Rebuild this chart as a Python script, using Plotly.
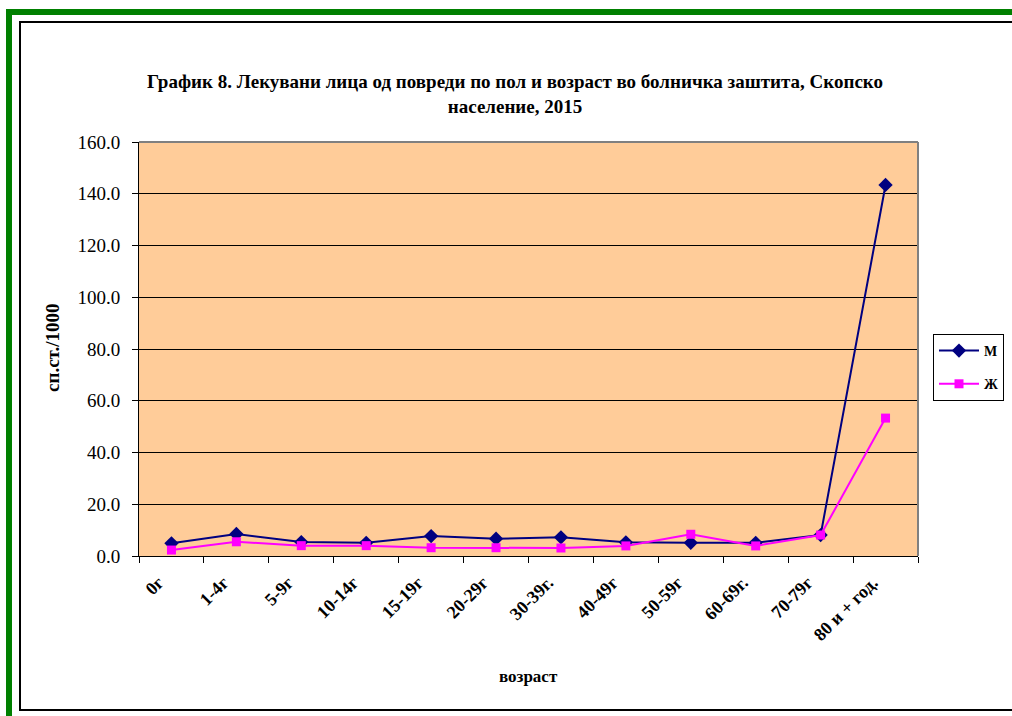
import plotly.graph_objects as go

# Возрастни групи и стапки на 1000 жители
categories = ["0г", "1-4г", "5-9г", "10-14г", "15-19г", "20-29г",
              "30-39г.", "40-49г", "50-59г", "60-69г.", "70-79г", "80 и + год."]
male = [4.9, 8.5, 5.4, 5.1, 7.7, 6.7, 7.2, 5.3, 5.1, 5.1, 8.1, 143.4]
female = [2.3, 5.5, 4.0, 4.0, 3.2, 3.2, 3.1, 3.9, 8.4, 3.9, 8.1, 53.3]
y_ticks = [0, 20, 40, 60, 80, 100, 120, 140, 160]

SERIF = "Liberation Serif, Times New Roman, serif"
W, H = 1012, 716
L, R, T, B = 139, 918, 142, 556  # поле за цртање, во пиксели


def px_x(x):
    return (x - L) / (R - L)


def px_y(y):
    return (B - y) / (B - T)


def frame_line(x0, y0, x1, y1, color, width):
    return dict(type="line", xref="paper", yref="paper",
                x0=px_x(x0), y0=px_y(y0), x1=px_x(x1), y1=px_y(y1),
                line=dict(color=color, width=width), layer="below")


fig = go.Figure()

fig.add_trace(go.Scatter(
    x=categories, y=male, name="М", legendgroup="m",
    mode="lines+markers",
    line=dict(color="#000080", width=2),
    marker=dict(symbol="diamond", size=11, color="#000080"),
))
fig.add_trace(go.Scatter(
    x=categories, y=female, name="Ж", legendgroup="f",
    mode="lines+markers",
    line=dict(color="#FF00FF", width=2),
    marker=dict(symbol="square", size=9, color="#FF00FF"),
))

shapes = [
    # зелена рамка (лево и горе)
    frame_line(9, 9, 9, 716, "#008000", 6),
    frame_line(6, 12, 1012, 12, "#008000", 6),
    # црна рамка (лево, горе, долу)
    frame_line(20, 21, 20, 711, "#000000", 2),
    frame_line(19, 22, 1012, 22, "#000000", 2),
    frame_line(19, 710, 1012, 710, "#000000", 2),
    # сива рамка околу полето
    dict(type="line", xref="paper", yref="paper", x0=0, x1=1, y0=1, y1=1,
         line=dict(color="#808080", width=2)),
    dict(type="line", xref="paper", yref="paper", x0=1, x1=1, y0=0, y1=1,
         line=dict(color="#808080", width=2)),
]

annotations = [
    dict(text="<b>возраст</b>", xref="paper", yref="paper",
         x=px_x(528), y=px_y(676), xanchor="center", yanchor="middle",
         showarrow=False, font=dict(family=SERIF, size=17, color="black")),
    dict(text="<b>сп.ст./1000</b>", xref="paper", yref="paper",
         x=px_x(52), y=px_y(348), xanchor="center", yanchor="middle",
         textangle=-90, showarrow=False,
         font=dict(family=SERIF, size=19, color="black")),
]

fig.update_layout(
    width=W, height=H,
    autosize=False,
    margin=dict(l=L, r=W - R, t=T, b=H - B, pad=0, autoexpand=False),
    paper_bgcolor="white",
    plot_bgcolor="#FFCC99",
    font=dict(family=SERIF, color="black", size=16),
    title=dict(
        text="<b>График 8. Лекувани лица од повреди по пол и возраст во болничка заштита, Скопско<br>население, 2015</b>",
        x=px_x(515), xanchor="center", xref="paper",
        y=1 - 88 / H, yanchor="middle",
        font=dict(family=SERIF, size=19, color="black"),
    ),
    xaxis=dict(
        type="category",
        range=[-0.5, len(categories) - 0.5],
        tickson="boundaries",
        ticks="outside", ticklen=6, tickcolor="black", tickwidth=1,
        tickangle=-45,
        ticklabelshift=-13, ticklabelstandoff=8,
        tickfont=dict(family=SERIF, size=18, color="black", weight="bold"),
        showline=True, linecolor="black", linewidth=1,
        showgrid=False,
    ),
    yaxis=dict(
        range=[0, 160],
        tickvals=y_ticks,
        tickformat=".1f",
        ticks="outside", ticklen=6, tickcolor="black", tickwidth=1,
        ticklabelstandoff=8,
        tickfont=dict(family=SERIF, size=19, color="black"),
        showline=True, linecolor="black", linewidth=1,
        showgrid=True, gridcolor="#000000", gridwidth=1,
        zeroline=False,
    ),
    legend=dict(
        x=px_x(933), y=px_y(334), xanchor="left", yanchor="top",
        bgcolor="white", bordercolor="#000000", borderwidth=1,
        font=dict(family=SERIF, size=14, color="black", weight="bold"),
        itemwidth=40, tracegroupgap=12,
    ),
    shapes=shapes,
    annotations=annotations,
)

# без маргина на body, за да сликата почне од аголот
fig.write_html(
    "out.html",
    config={"displayModeBar": False},
    post_script="document.body.style.margin='0';document.body.style.overflow='hidden';",
)
